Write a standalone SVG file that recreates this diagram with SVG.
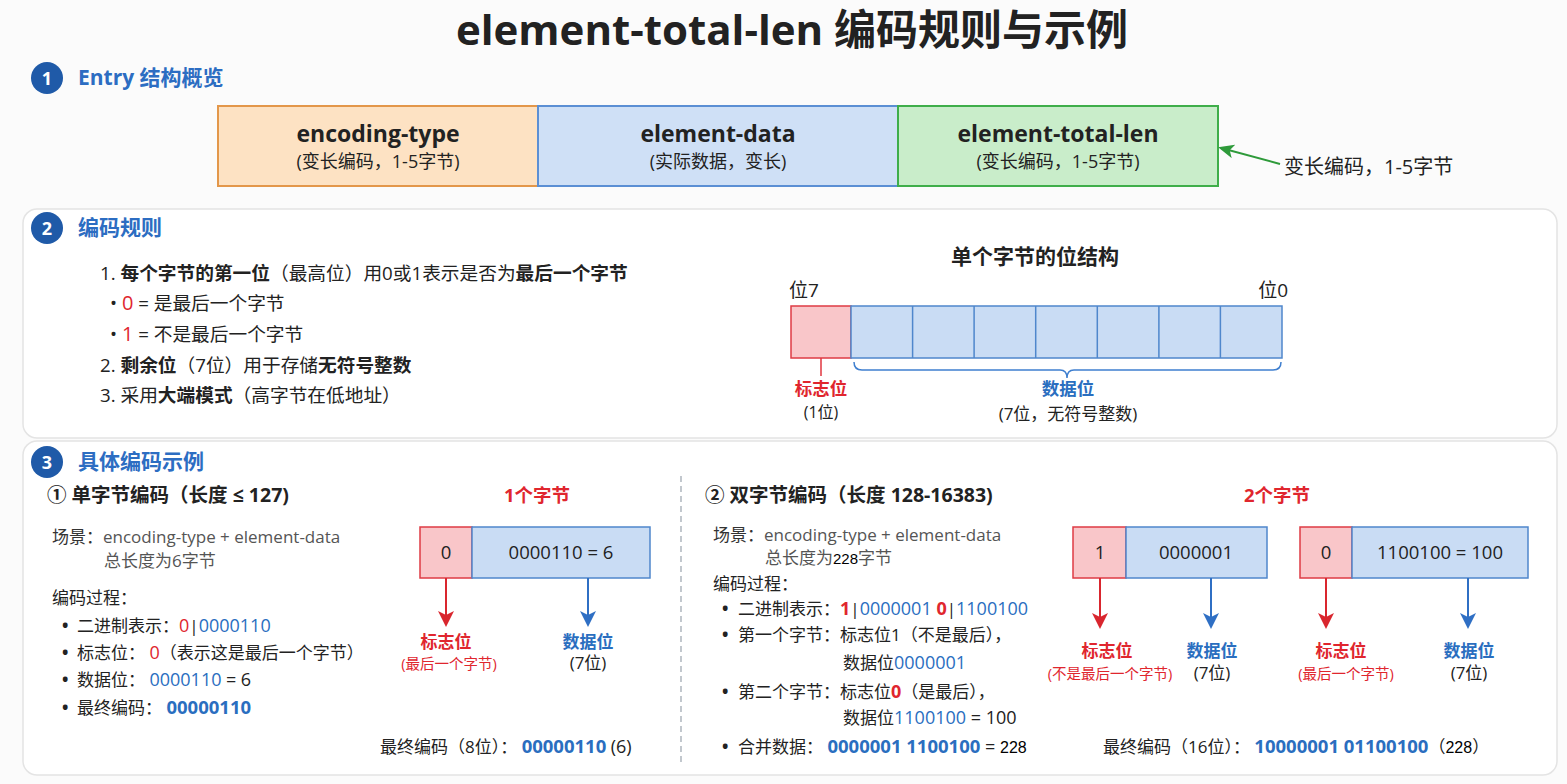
<svg xmlns="http://www.w3.org/2000/svg" width="1567" height="784" viewBox="0 0 1567 784">
<style>
text{font-family:"Open Sans","Noto Sans CJK SC",sans-serif;fill:#222}
.b{font-weight:bold}
.hd{font-size:21px;font-weight:bold;fill:#2c6dc2}
.num{font-size:18px;font-weight:bold;fill:#fff}
.red{fill:#e0262e}
.blue{fill:#2a6ebf}
.t19{font-size:18.7px}
.t17{font-size:17px}
.t18{font-size:18.5px}
.t14{font-size:14.5px}
.gray{fill:#555}
.c{text-anchor:middle}
.panel{fill:#fff;stroke:#e4e4e4;stroke-width:1.5}
.rbox{fill:#f9c6c9;stroke:#de3b44;stroke-width:1.5}
.bbox{fill:#c9dcf4;stroke:#4f87cc;stroke-width:1.5}
.pasted{font-family:"Liberation Sans",sans-serif;fill:#000;font-weight:normal}
</style>
<defs>
<marker id="ag" markerWidth="16" markerHeight="14" refX="13" refY="7" orient="auto" markerUnits="userSpaceOnUse"><path d="M0,0 L16,7 L0,14 L4,7 Z" fill="#2e9a3a"/></marker>
<marker id="ar" markerWidth="16" markerHeight="16" refX="13" refY="8" orient="auto" markerUnits="userSpaceOnUse"><path d="M0,0 L16,8 L0,16 L4,8 Z" fill="#d9262e"/></marker>
<marker id="ab" markerWidth="16" markerHeight="16" refX="13" refY="8" orient="auto" markerUnits="userSpaceOnUse"><path d="M0,0 L16,8 L0,16 L4,8 Z" fill="#2f6fc4"/></marker>
</defs>
<rect x="0" y="0" width="1567" height="784" fill="#fbfbfb"/>

<g id="title"><text x="792" y="45" class="c b" font-size="42" fill="#111">element-total-len 编码规则与示例</text></g>

<g id="sec1-header">
<circle cx="47" cy="78" r="16" fill="#1f5aa8"/><text x="47" y="84.5" class="num c">1</text>
<text x="78" y="85" class="hd">Entry 结构概览</text>
</g>
<g id="box-encoding-type">
<rect x="218" y="106" width="320" height="80" fill="#fde2c3" stroke="#e3974a" stroke-width="2"/>
<text x="378" y="142" class="c b" font-size="23">encoding-type</text>
<text x="378" y="168" class="c" font-size="18">(变长编码，1-5字节)</text>
</g>
<g id="box-element-data">
<rect x="538" y="106" width="360" height="80" fill="#cfe0f6" stroke="#5b8fd4" stroke-width="2"/>
<text x="718" y="142" class="c b" font-size="23">element-data</text>
<text x="718" y="168" class="c" font-size="18">(实际数据，变长)</text>
</g>
<g id="box-element-total-len">
<rect x="898" y="106" width="320" height="80" fill="#c9edca" stroke="#3fae4a" stroke-width="2"/>
<text x="1058" y="142" class="c b" font-size="23">element-total-len</text>
<text x="1058" y="168" class="c" font-size="18">(变长编码，1-5字节)</text>
</g>
<g id="note-varlen"><text x="1284" y="174" font-size="20">变长编码，1-5字节</text></g>

<g id="sec2">
<rect class="panel" x="23" y="209" width="1534" height="229" rx="14"/>
<circle cx="47" cy="228" r="16" fill="#1f5aa8"/><text x="47" y="234.5" class="num c">2</text>
<text x="78" y="235" class="hd">编码规则</text>
<text x="100" y="280" class="t19">1. <tspan class="b">每个字节的第一位</tspan>（最高位）用0或1表示是否为<tspan class="b">最后一个字节</tspan></text>
<text x="110" y="310" class="t19">• <tspan class="red" font-size="20">0</tspan> = 是最后一个字节</text>
<text x="110" y="341" class="t19">• <tspan class="red" font-size="20">1</tspan> = 不是最后一个字节</text>
<text x="100" y="372" class="t19">2. <tspan class="b">剩余位</tspan>（7位）用于存储<tspan class="b">无符号整数</tspan></text>
<text x="100" y="402" class="t19">3. 采用<tspan class="b">大端模式</tspan>（高字节在低地址）</text>
</g>

<g id="bit-structure">
<text x="1035" y="264" class="c b" font-size="21">单个字节的位结构</text>
<text x="789" y="297" font-size="19">位7</text>
<text x="1288" y="297" font-size="19" text-anchor="end">位0</text>
<rect class="rbox" x="791" y="306" width="60" height="52" fill="#f9b8bc"/>
<rect class="bbox" x="851" y="306" width="431" height="52"/>
<path d="M912.6,306V358M974.1,306V358M1035.7,306V358M1097.3,306V358M1158.9,306V358M1220.4,306V358" stroke="#4f87cc" stroke-width="1.5" fill="none"/>
<path d="M854,362 Q854,370 862,370 L1060,370 Q1067,370 1067,378 Q1067,370 1074,370 L1273,370 Q1281,370 1281,362" fill="none" stroke="#3f7fcf" stroke-width="1.5"/>
<text x="821" y="395" class="c b red" font-size="17.5">标志位</text>
<text x="821" y="418" class="c" font-size="16">(1位)</text>
<text x="1068" y="395" class="c b blue" font-size="17.5">数据位</text>
<text x="1068" y="420" class="c" font-size="17">(7位，无符号整数)</text>
</g>

<g id="sec3">
<rect class="panel" x="23" y="441" width="1534" height="334" rx="14"/>
<circle cx="47" cy="462" r="16" fill="#1f5aa8"/><text x="47" y="468.5" class="num c">3</text>
<text x="78" y="469" class="hd">具体编码示例</text>
<line x1="681" y1="476" x2="681" y2="762" stroke="#9aa3ad" stroke-width="1.2" stroke-dasharray="6,4"/>
</g>

<g id="example1-text">
<text x="47" y="502" class="b" font-size="19.5">① 单字节编码（长度 ≤ 127)</text>
<text x="52" y="543" class="t17 gray"><tspan fill="#333">场景：</tspan>encoding-type + element-data</text>
<text x="104" y="567" class="t17 gray">总长度为6字节</text>
<text x="52" y="604" class="t17">编码过程：</text>
<text x="62" y="632" class="t17 b">•</text><text x="77" y="632" class="t17">二进制表示：<tspan class="red" font-size="18">0</tspan>|<tspan class="blue" font-size="18">0000110</tspan></text>
<text x="62" y="659" class="t17 b">•</text><text x="77" y="659" class="t17">标志位： <tspan class="red" font-size="18">0</tspan>（表示这是最后一个字节）</text>
<text x="62" y="686" class="t17 b">•</text><text x="77" y="686" class="t17">数据位： <tspan class="blue" font-size="18">0000110</tspan> <tspan font-size="18">= 6</tspan></text>
<text x="62" y="714" class="t17 b">•</text><text x="77" y="714" class="t17">最终编码： <tspan class="blue b" font-size="18.5">00000110</tspan></text>
</g>

<g id="example1-byte">
<text x="537" y="502" class="c b red" font-size="18.5">1个字节</text>
<rect class="rbox" x="420" y="527" width="52" height="51"/>
<rect class="bbox" x="472" y="527" width="178" height="51"/>
<text x="446" y="559" class="c t18">0</text>
<text x="561" y="559" class="c t18">0000110 = 6</text>
<text x="446" y="648" class="c b red" font-size="17">标志位</text>
<text x="449" y="669" class="c t14 red">(最后一个字节)</text>
<text x="588" y="648" class="c b blue" font-size="17">数据位</text>
<text x="588" y="669" class="c t17">(7位)</text>
<text x="380" y="753" class="t17">最终编码（8位）： <tspan class="blue b" font-size="18.5">00000110</tspan> <tspan font-size="18">(6)</tspan></text>
</g>

<g id="example2-text">
<text x="705" y="502" class="b" font-size="19.5">② 双字节编码（长度 128-16383)</text>
<text x="713" y="541" class="t17 gray"><tspan fill="#333">场景：</tspan>encoding-type + element-data</text>
<text x="765" y="564" class="t17 gray">总长度为<tspan class="pasted" font-size="15">228</tspan>字节</text>
<text x="713" y="590" class="t17">编码过程：</text>
<text x="722" y="615" class="t17 b">•</text><text x="738" y="615" class="t17">二进制表示：<tspan class="red b" font-size="18">1</tspan>|<tspan class="blue" font-size="18">0000001 </tspan><tspan class="red b" font-size="18">0</tspan>|<tspan class="blue" font-size="18">1100100</tspan></text>
<text x="722" y="641" class="t17 b">•</text><text x="738" y="641" class="t17">第一个字节：标志位1（不是最后），</text>
<text x="843" y="669" class="t17">数据位<tspan class="blue" font-size="18">0000001</tspan></text>
<text x="722" y="698" class="t17 b">•</text><text x="738" y="698" class="t17">第二个字节：标志位<tspan class="red b" font-size="18">0</tspan>（是最后），</text>
<text x="843" y="724" class="t17">数据位<tspan class="blue" font-size="18">1100100</tspan><tspan font-size="18"> = 100</tspan></text>
<text x="722" y="753" class="t17 b">•</text><text x="738" y="753" class="t17">合并数据： <tspan class="blue b" font-size="18.5">0000001 1100100</tspan><tspan font-size="18"> = </tspan><tspan class="pasted" font-size="16">228</tspan></text>
</g>

<g id="example2-bytes">
<text x="1277" y="502" class="c b red" font-size="18.5">2个字节</text>
<rect class="rbox" x="1073" y="527" width="53" height="51"/>
<rect class="bbox" x="1126" y="527" width="141" height="51"/>
<text x="1100" y="559" class="c t18">1</text>
<text x="1196" y="559" class="c t18">0000001</text>
<rect class="rbox" x="1300" y="527" width="52" height="51"/>
<rect class="bbox" x="1352" y="527" width="176" height="51"/>
<text x="1326" y="559" class="c t18">0</text>
<text x="1440" y="559" class="c t18">1100100 = 100</text>
<text x="1107" y="657" class="c b red" font-size="17">标志位</text>
<text x="1110" y="679" class="c t14 red">(不是最后一个字节)</text>
<text x="1212" y="657" class="c b blue" font-size="17">数据位</text>
<text x="1212" y="679" class="c t17">(7位)</text>
<text x="1341" y="657" class="c b red" font-size="17">标志位</text>
<text x="1346" y="679" class="c t14 red">(最后一个字节)</text>
<text x="1469" y="657" class="c b blue" font-size="17">数据位</text>
<text x="1469" y="679" class="c t17">(7位)</text>
<text x="1103" y="753" class="t17">最终编码（16位）： <tspan class="blue b" font-size="18.5">10000001 01100100</tspan>（<tspan class="pasted" font-size="16">228</tspan>）</text>
</g>

<g id="connectors" fill="none" stroke-width="2">
<line x1="1280" y1="164" x2="1221" y2="148" stroke="#2e9a3a" marker-end="url(#ag)"/>
<line x1="821" y1="358" x2="821" y2="376" stroke="#e0363f" stroke-width="1.5"/>
<line x1="446" y1="578" x2="446" y2="624" stroke="#d9262e" marker-end="url(#ar)"/>
<line x1="588" y1="578" x2="588" y2="624" stroke="#2f6fc4" marker-end="url(#ab)"/>
<line x1="1100" y1="578" x2="1100" y2="626" stroke="#d9262e" marker-end="url(#ar)"/>
<line x1="1211" y1="578" x2="1211" y2="626" stroke="#2f6fc4" marker-end="url(#ab)"/>
<line x1="1326" y1="578" x2="1326" y2="626" stroke="#d9262e" marker-end="url(#ar)"/>
<line x1="1468" y1="578" x2="1468" y2="626" stroke="#2f6fc4" marker-end="url(#ab)"/>
</g>
</svg>
